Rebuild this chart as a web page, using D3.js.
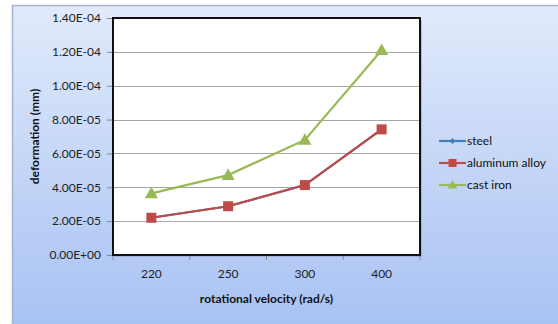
<!DOCTYPE html>
<html><head><meta charset="utf-8">
<script src="https://cdn.jsdelivr.net/npm/d3@7/dist/d3.min.js"></script>
<style>body{margin:0;background:#fff}svg{display:block}</style>
</head><body>
<svg id="c" width="558" height="324"></svg>
<script>
const categories = ["220", "250", "300", "400"];
const seriesNames = ["steel", "aluminum alloy", "cast iron"];
const steel = [2.2e-5, 2.88e-5, 4.13e-5, 7.42e-5];
const aluminum = [2.2e-5, 2.88e-5, 4.13e-5, 7.42e-5];
const castIron = [3.64e-5, 4.72e-5, 6.8e-5, 1.21e-4];
const yTicks = [0, 2e-5, 4e-5, 6e-5, 8e-5, 1e-4, 1.2e-4, 1.4e-4];
const yTickLabels = ["0.00E+00","2.00E-05","4.00E-05","6.00E-05","8.00E-05","1.00E-04","1.20E-04","1.40E-04"];

const svg = d3.select("#c");
const font = "Lato, 'Open Sans', sans-serif";
const defs = svg.append("defs");
const g = defs.append("linearGradient").attr("id","bg").attr("x1",0).attr("y1",0).attr("x2",0).attr("y2",1);
g.append("stop").attr("offset","0%").attr("stop-color","#e1eafb");
g.append("stop").attr("offset","100%").attr("stop-color","#a6c1f3");
svg.append("rect").attr("x",12.5).attr("y",5.5).attr("width",560).attr("height",330)
  .attr("fill","url(#bg)").attr("stroke","#a3b4cc").attr("stroke-width",1.5);

const L=113, R=420, T=18, B=255;
const x = d3.scaleBand().domain(categories).range([L,R]);
const y = d3.scaleLinear().domain([0,1.4e-4]).range([B,T]);

svg.append("rect").attr("x",L+2).attr("y",T+2).attr("width",R-L).attr("height",B-T).attr("fill","#8a9ab8").attr("opacity",0.5);
svg.append("rect").attr("x",L).attr("y",T).attr("width",R-L).attr("height",B-T).attr("fill","#fff");

svg.append("g").selectAll("line").data(yTicks.slice(1)).join("line")
  .attr("x1",L).attr("x2",R).attr("y1",d=>Math.round(y(d))+0.5).attr("y2",d=>Math.round(y(d))+0.5)
  .attr("stroke","#a6a6a6").attr("stroke-width",1);

const ya = d3.axisLeft(y).tickValues(yTicks).tickFormat((d,i)=>yTickLabels[i]).tickSize(6).tickPadding(6);
const yg = svg.append("g").attr("transform",`translate(${L},0)`).call(ya);
yg.select(".domain").remove();
yg.selectAll(".tick line").attr("stroke","#888");
yg.selectAll("text").attr("font-family",font).attr("font-size",12).attr("fill","#222");

const xa = d3.axisBottom(x).tickSize(0).tickPadding(14);
const xg = svg.append("g").attr("transform",`translate(0,${B})`).call(xa);
xg.select(".domain").remove();
xg.selectAll("text").attr("font-family",font).attr("font-size",12).attr("fill","#222");
const bounds = categories.map(c=>x(c)).concat([R]);
svg.append("g").selectAll("line").data(bounds).join("line")
  .attr("x1",d=>d).attr("x2",d=>d).attr("y1",B).attr("y2",B+5).attr("stroke","#888");

svg.append("rect").attr("x",L).attr("y",T).attr("width",R-L).attr("height",B-T)
  .attr("fill","none").attr("stroke","#111").attr("stroke-width",2);

svg.append("text").attr("transform",`translate(39,${(T+B)/2}) rotate(-90)`).attr("text-anchor","middle")
  .attr("font-family",font).attr("font-size",12).attr("font-weight","bold").attr("fill","#111").text("deformation (mm)");
svg.append("text").attr("x",(L+R)/2).attr("y",303).attr("text-anchor","middle")
  .attr("font-family",font).attr("font-size",12).attr("font-weight","bold").attr("fill","#111").text("rotational velocity (rad/s)");

const cx = c => x(c)+x.bandwidth()/2;
const line = d3.line().x((d,i)=>cx(categories[i])).y(d=>y(d));
const series = [
  {name:seriesNames[0], vals:steel, color:"#4a7ebb", marker:"diamond"},
  {name:seriesNames[2], vals:castIron, color:"#98b954", marker:"triangle"},
  {name:seriesNames[1], vals:aluminum, color:"#be4b48", marker:"square"},
];
function drawMarker(sel, type, color, size){
  if(type==="square") sel.append("rect").attr("x",-size/2).attr("y",-size/2).attr("width",size).attr("height",size).attr("fill",color);
  else if(type==="triangle") sel.append("path").attr("d",`M0,${-size*0.6}L${size*0.6},${size*0.45}L${-size*0.6},${size*0.45}Z`).attr("fill",color);
  else sel.append("path").attr("d",`M0,${-size/2}L${size/2},0L0,${size/2}L${-size/2},0Z`).attr("fill",color);
}
series.forEach(s=>{
  svg.append("path").datum(s.vals).attr("d",line).attr("fill","none").attr("stroke",s.color).attr("stroke-width",2.2);
  s.vals.forEach((v,i)=>{
    const m = svg.append("g").attr("transform",`translate(${cx(categories[i])},${y(v)})`);
    drawMarker(m, s.marker, s.color, s.marker==="square"?10:(s.marker==="triangle"?11:8));
  });
});

const legendItems = [
  {name:seriesNames[0], color:"#4a7ebb", marker:"diamond"},
  {name:seriesNames[1], color:"#be4b48", marker:"square"},
  {name:seriesNames[2], color:"#98b954", marker:"triangle"},
];
legendItems.forEach((it,i)=>{
  const ly = 141 + i*22;
  svg.append("line").attr("x1",439).attr("x2",466).attr("y1",ly).attr("y2",ly).attr("stroke",it.color).attr("stroke-width",2.2);
  const m = svg.append("g").attr("transform",`translate(452.5,${ly})`);
  drawMarker(m, it.marker, it.color, it.marker==="square"?8:(it.marker==="triangle"?8:6));
  svg.append("text").attr("x",467).attr("y",ly+4).attr("font-family",font).attr("font-size",12).attr("fill","#111").text(it.name);
});
</script>
</body></html>
